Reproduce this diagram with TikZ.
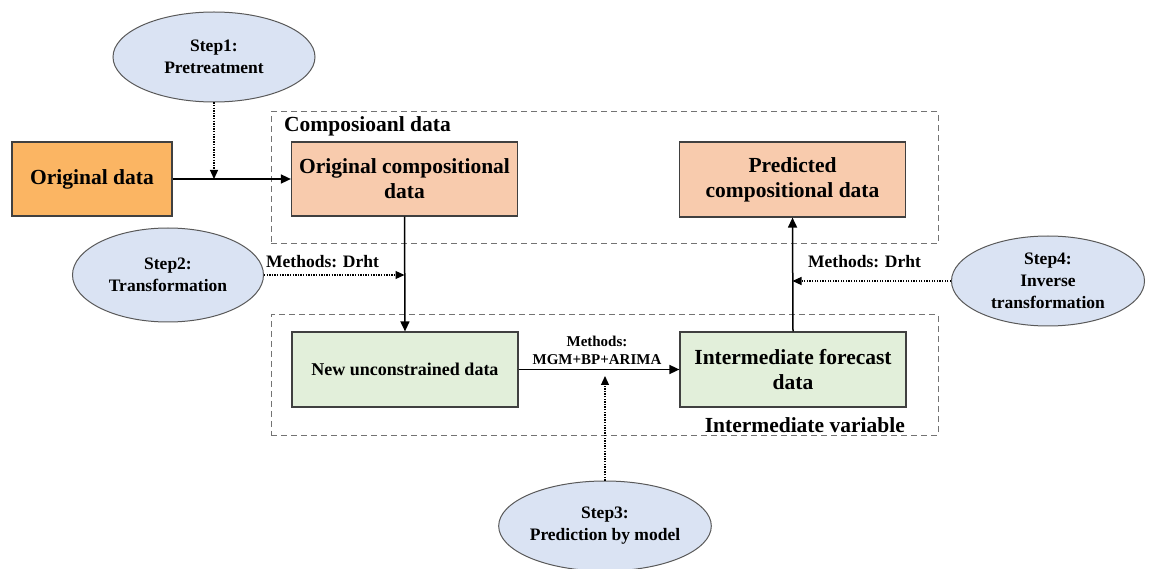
\documentclass[tikz,border=0pt]{standalone}
\usepackage{fontspec}
\setmainfont{Liberation Serif}
\usetikzlibrary{arrows.meta,shapes.geometric}

\begin{document}
\begin{tikzpicture}[x=1pt, y=-1pt, font=\bfseries,
  frame/.style={draw=black!55, dash pattern=on 6pt off 4pt, line width=1pt, inner sep=0pt},
  databox/.style={draw=black!75, line width=1.2pt, minimum width=226pt, minimum height=75pt, align=center, inner sep=2pt, font=\fontsize{21.5}{25}\selectfont\bfseries},
  stepnode/.style={ellipse, draw=black!65, fill=stepF, line width=1pt, align=center, inner sep=0pt, font=\fontsize{17.5}{22}\selectfont\bfseries},
  flow/.style={-{Triangle[length=10pt,width=9pt]}, line width=1.5pt},
  hint/.style={-{Triangle[length=9pt,width=8pt]}, line width=1.2pt, dash pattern=on 1.3pt off 1.3pt},
  meth/.style={inner sep=0pt, font=\fontsize{17.5}{20}\selectfont\bfseries},
  tag/.style={inner sep=0pt, font=\fontsize{21.5}{25}\selectfont\bfseries},
]
\definecolor{origF}{HTML}{FBB563}
\definecolor{compF}{HTML}{F8CBAD}
\definecolor{freeF}{HTML}{E2EFDA}
\definecolor{stepF}{HTML}{DAE3F3}
\useasboundingbox (0,0) rectangle (1152,569);
% ---- dashed groups ----
\node[frame, minimum width=667pt, minimum height=132pt] (compfr) at (604.5,178) {};
\node[frame, minimum width=667pt, minimum height=120pt] (interfr) at (604.5,375) {};
\node[tag, anchor=west] (comptag) at (284,126) {Composioanl data};
\node[tag, anchor=base east] (intertag) at (905,432) {Intermediate variable};
% ---- data boxes ----
\node[databox, fill=origF, minimum width=160pt, minimum height=74pt] (orig) at (92,179) {Original data};
\node[databox, fill=compF, minimum height=74pt] (ocomp) at (404.5,179) {Original compositional\\data};
\node[databox, fill=compF] (pred) at (792.5,179.5) {Predicted\\compositional data};
\node[databox, fill=freeF, font=\fontsize{18}{22}\selectfont\bfseries] (newd) at (405,369.5) {New unconstrained data};
\node[databox, fill=freeF] (inter) at (793,369.5) {Intermediate forecast\\data};
% ---- steps ----
\node[stepnode, minimum width=202pt, minimum height=90pt] (s1) at (214,57) {Step1:\\Pretreatment};
\node[stepnode, minimum width=191pt, minimum height=94pt] (s2) at (168,275) {Step2:\\Transformation};
\node[stepnode, minimum width=205pt, minimum height=90pt] (s3) at (605,526) {Step3:\\Prediction by model};
\node[stepnode, minimum width=193pt, minimum height=90pt] (s4) at (1048,281) {Step4:\\Inverse\\transformation};
% ---- connectors ----
\draw[flow] (orig.east) -- (ocomp.west);
\draw[flow] (ocomp.south) -- (newd.north);
\draw[flow] (newd.east) -- (inter.west);
\draw[flow] (inter.north) -- (pred.south);
\coordinate (j1) at (s1.south |- orig.east);
\coordinate (j2) at (s2.east -| ocomp.south);
\coordinate (j3) at (605,376);
\coordinate (j4) at (s4.west -| pred.south);
\draw[hint] (s1.south) -- (j1);
\draw[hint] (s2.east) -- (j2);
\draw[hint] (s3.north) -- (j3);
\draw[hint] (s4.west) -- (j4);
% ---- method labels ----
\node[meth, anchor=base west] (m2) at (266,268) {Methods: Drht};
\node[meth, anchor=base west] (m4) at (808,268) {Methods: Drht};
\node[meth, anchor=south, align=center, font=\fontsize{15}{18}\selectfont\bfseries] (m3) at (597,365) {Methods:\\MGM+BP+ARIMA};
\end{tikzpicture}
\end{document}
